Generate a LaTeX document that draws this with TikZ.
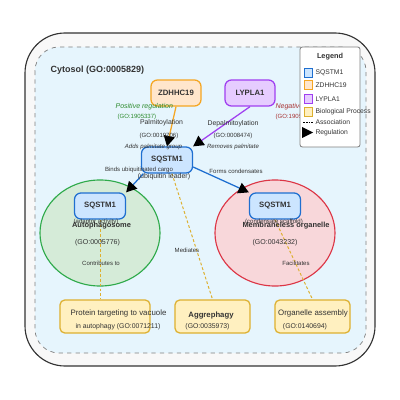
\documentclass[tikz,border=0pt]{standalone}
\usepackage{fontspec}
\setmainfont{Liberation Sans}
\usetikzlibrary{arrows.meta,shapes.geometric}
\definecolor{sqfill}{HTML}{CCE5FF}
\definecolor{sqdraw}{HTML}{1F6FD0}
\definecolor{zdfill}{HTML}{FFE6CC}
\definecolor{zddraw}{HTML}{F5A623}
\definecolor{lyfill}{HTML}{E6CCFF}
\definecolor{lydraw}{HTML}{A040F0}
\definecolor{bpfill}{HTML}{FFF0C0}
\definecolor{bpdraw}{HTML}{DDB030}
\definecolor{autofill}{HTML}{D5EBD8}
\definecolor{autodraw}{HTML}{2EAA4A}
\definecolor{memfill}{HTML}{F8D7DA}
\definecolor{memdraw}{HTML}{DC3545}
\definecolor{cytofill}{HTML}{E6F5FD}
\definecolor{cellfill}{HTML}{F8F8F8}
\definecolor{txt}{HTML}{333333}
\definecolor{posgreen}{HTML}{2E8B2E}
\definecolor{negred}{HTML}{A83232}
\begin{document}
\begin{tikzpicture}
[x=0.025cm, y=-0.025cm, line width=0.8pt, text=txt,
prot/.style={rectangle, draw, rounded corners=1.6mm, line width=0.9pt, inner sep=0pt, minimum width=12.75mm, minimum height=6.5mm, font=\fontsize{5.5}{6}\selectfont\bfseries},
bp/.style={rectangle, draw=bpdraw, fill=bpfill, rounded corners=1.2mm, line width=0.9pt, inner sep=0pt, minimum height=8.25mm},
comp/.style={ellipse, draw, line width=0.8pt, inner sep=0pt, minimum width=30mm, minimum height=26.5mm},
reg/.style={-{Triangle[length=2.6mm, width=2.8mm, color=black]}, line width=0.9pt},
assoc/.style={draw=bpdraw, line width=0.7pt, dash pattern=on 2pt off 1.5pt},
big/.style={font=\fontsize{5.6}{6}\selectfont, inner sep=0pt},
mid/.style={font=\fontsize{4.9}{5.5}\selectfont, inner sep=0pt},
small/.style={font=\fontsize{4.3}{5}\selectfont, inner sep=0pt},
legbox/.style={rectangle, draw, line width=0.7pt, inner sep=0pt, minimum width=2mm, minimum height=2.1mm},
legtxt/.style={font=\fontsize{4.8}{5}\selectfont, inner sep=0pt, anchor=west}]

\useasboundingbox (0,0) rectangle (400,400);

\draw[draw=txt, fill=cellfill, rounded corners=1cm] (25,33) rectangle (375,366);
\draw[draw=gray, fill=cytofill, dashed, line width=0.5pt, rounded corners=0.6cm] (35,47) rectangle (366,353);
\node[anchor=west, inner sep=0pt, font=\fontsize{6.4}{7}\selectfont\bfseries] (cyto) at (50,70) {Cytosol (GO:0005829)};

\node[comp, fill=autofill, draw=autodraw] (autoph) at (100,233) {};
\node[comp, fill=memfill, draw=memdraw] (memb) at (275,233) {};

\node[prot, fill=zdfill, draw=zddraw, minimum width=12.5mm] (zd) at (176,93) {ZDHHC19};
\node[prot, fill=lyfill, draw=lydraw, minimum width=12.5mm] (ly) at (250,93) {LYPLA1};
\node[prot, fill=sqfill, draw=sqdraw] (sq) at (167,160) {SQSTM1};
\node[prot, fill=sqfill, draw=sqdraw] (sqa) at (100,206) {SQSTM1};
\node[prot, fill=sqfill, draw=sqdraw] (sqm) at (275,206) {SQSTM1};

\node[bp, minimum width=22.5mm] (ptv) at (105,316.5) {};
\node[bp, minimum width=18.75mm] (agg) at (212.5,316.5) {};
\node[bp, minimum width=18.75mm] (org) at (312.5,316.5) {};

\draw[reg, draw=zddraw] (zd.south) -- (sq.north);
\draw[reg, draw=lydraw] (ly.south) -- (sq.north east);
\draw[reg, draw=sqdraw] (sq.210) -- (sqa.north east);
\draw[reg, draw=sqdraw] (sq.-15) -- (sqm.north west);
\draw[assoc] (sq.290) -- (agg.north);
\draw[assoc] (sqa.south) -- (sqa.south |- ptv.north);
\draw[assoc] (sqm.south) -- (org.north);

\node[mid, anchor=west, text=posgreen, font=\fontsize{5}{5.5}\selectfont\itshape] (posreg) at (115,107) {Positive regulation};
\node[small, anchor=west, text=posgreen] (posgo) at (117,117) {(GO:1905337)};
\node[mid, anchor=west, text=negred, font=\fontsize{5}{5.5}\selectfont\itshape] (negreg) at (275,107) {Negative regulation};
\node[small, anchor=west, text=negred] (neggo) at (275,117) {(GO:1905338)};

\node[mid] (palm) at (161.5,123) {Palmitoylation};
\node[small] (palmgo) at (159,136) {(GO:0019706)};
\node[small, font=\fontsize{4.3}{5}\selectfont\itshape] (palmnote) at (153.5,147) {Adds palmitate group};
\node[mid] (depalm) at (233,124) {Depalmitoylation};
\node[small] (depalmgo) at (233,136) {(GO:0008474)};
\node[small, font=\fontsize{4.3}{5}\selectfont\itshape] (depalmnote) at (233,147) {Removes palmitate};

\node[small] (binds) at (139,170) {Binds ubiquitinated cargo};
\node[mid, font=\fontsize{5}{5.5}\selectfont] (ubl) at (164,177) {(ubiquitin leader)};
\node[small] (forms) at (236,171) {Forms condensates};

\node[small] (adapt) at (96,222) {(adaptor activity)};
\node[font=\fontsize{5.3}{6}\selectfont\bfseries, inner sep=0pt] (autolbl) at (101.5,226) {Autophagosome};
\node[mid, font=\fontsize{5}{5.5}\selectfont] (autogo) at (97.5,243) {(GO:0005776)};
\node[small] (contr) at (101,263) {Contributes to};

\node[small] (cond) at (274,222) {(condensate scaffold)};
\node[font=\fontsize{5.3}{6}\selectfont\bfseries, inner sep=0pt] (memlbl) at (286,226) {Membraneless organelle};
\node[mid, font=\fontsize{5}{5.5}\selectfont] (memgo) at (275,243) {(GO:0043232)};
\node[small] (facil) at (296,263) {Facilitates};

\node[small] (med) at (187,250) {Mediates};

\node[big] (ptv1) at (118.5,313) {Protein targeting to vacuole};
\node[mid] (ptv2) at (118,327) {in autophagy (GO:0071211)};
\node[big, font=\fontsize{5.5}{6}\selectfont\bfseries] (agg1) at (211,316) {Aggrephagy};
\node[mid] (agg2) at (207.5,327) {(GO:0035973)};
\node[big] (org1) at (313,313) {Organelle assembly};
\node[mid] (org2) at (305,327) {(GO:0140694)};

\node[rectangle, draw=gray, fill=white, rounded corners=0.6mm, line width=0.6pt, minimum width=15mm, minimum height=25mm] (leg) at (330,97) {};
\node[font=\fontsize{5.2}{6}\selectfont\bfseries, inner sep=0pt] (legt) at (330,57) {Legend};
\foreach \y/\f/\d/\t [count=\i] in {73/sqfill/sqdraw/SQSTM1, 85/zdfill/zddraw/ZDHHC19, 99/lyfill/lydraw/LYPLA1, 112/bpfill/bpdraw/Biological Process} {
  \node[legbox, fill=\f, draw=\d] (legbox\i) at (308.5,\y) {};
  \node[legtxt] (legtxt\i) at (315,\y) {\t};
}
\coordinate (legas1) at (303,122);
\coordinate (legas2) at (313,122);
\draw[black, line width=0.6pt, dash pattern=on 1.2pt off 0.8pt] (legas1) -- (legas2);
\node[legtxt] (legas) at (315,122) {Association};
\fill[black] (302,127) -- (313,132.5) -- (302,138) -- cycle;
\node[legtxt] (legreg) at (315,133) {Regulation};
\end{tikzpicture}
\end{document}
